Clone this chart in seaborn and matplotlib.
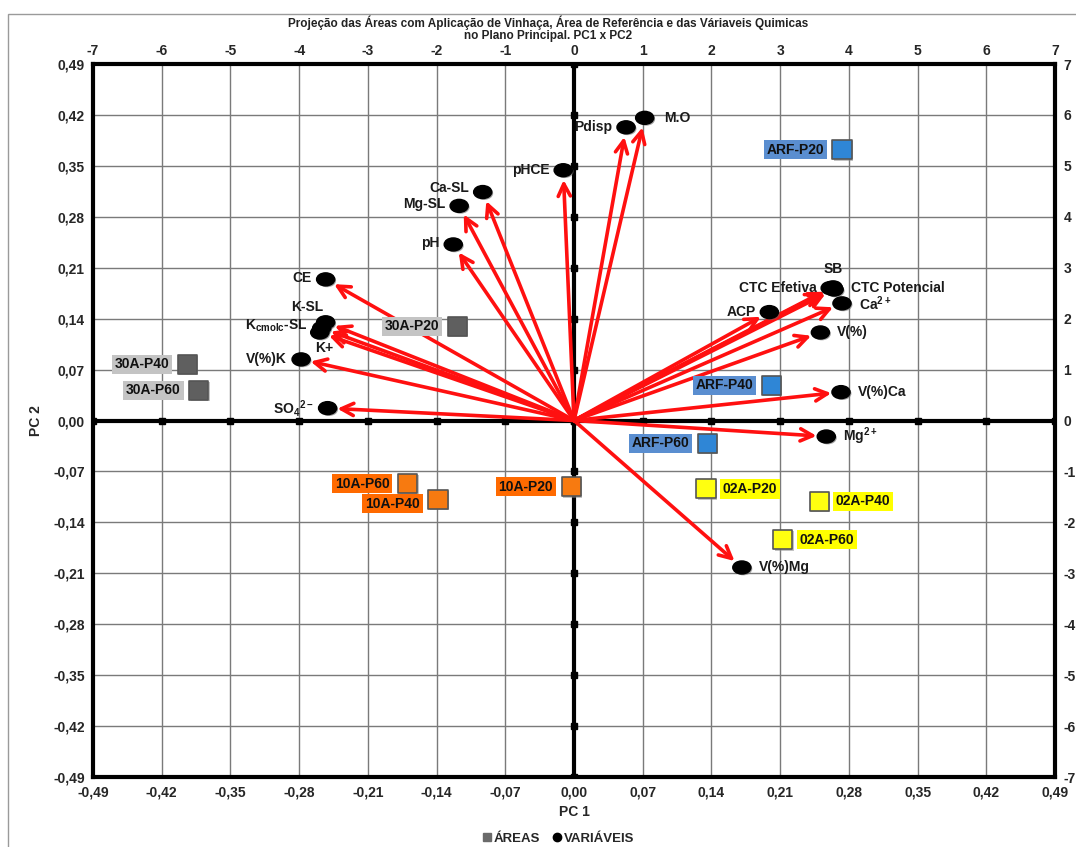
import numpy as np
import pandas as pd
import seaborn as sns
import matplotlib.pyplot as plt
import matplotlib.transforms as mtransforms
from matplotlib.path import Path
from matplotlib.ticker import FuncFormatter
from matplotlib.patches import Rectangle
import matplotlib.patheffects as pe

# Loadings of the chemical variables (PC1, PC2)
var_names = ['M.O', 'Pdisp', 'pHCE', 'Ca-SL', 'Mg-SL', 'pH', 'CE', 'K-SL',
             'K$_{\\mathbf{cmolc}}$-SL', 'K+', 'V(%)K', 'SO$_{\\mathbf{4}}$$^{\\mathbf{2-}}$',
             'SB', 'CTC Efetiva', 'CTC Potencial', 'Ca$^{\\mathbf{2+}}$', 'ACP', 'V(%)',
             'V(%)Ca', 'Mg$^{\\mathbf{2+}}$', 'V(%)Mg']
var_pc1 = [0.072, 0.053, -0.011, -0.093, -0.117, -0.123, -0.253, -0.253,
           -0.257, -0.259, -0.278, -0.251, 0.264, 0.261, 0.265, 0.273, 0.199,
           0.251, 0.272, 0.257, 0.171]
var_pc2 = [0.416, 0.403, 0.344, 0.314, 0.295, 0.242, 0.194, 0.135,
           0.127, 0.121, 0.084, 0.017, 0.183, 0.182, 0.180, 0.161, 0.149,
           0.121, 0.039, -0.022, -0.202]
# label placement: (dx, dy) in points, horizontal alignment
var_label_pos = [((14, 0), 'left'), ((-10, 0), 'right'), ((-10, 0), 'right'),
                 ((-10, 3), 'right'), ((-10, 1), 'right'), ((-10, 1), 'right'),
                 ((-10, 1), 'right'), ((-2, 11), 'right'), ((-10, 2), 'right'),
                 ((10, -11), 'right'), ((-10, 0), 'right'), ((-10, 0), 'right'),
                 ((0, 13), 'center'), ((-10, 0), 'right'), ((12, 1), 'left'),
                 ((12, 0), 'left'), ((-10, 0), 'right'), ((12, 0), 'left'),
                 ((12, 0), 'left'), ((12, 0), 'left'), ((12, 0), 'left')]

# Scores of the areas (PC1, PC2)
area_names = ['ARF-P20', 'ARF-P40', 'ARF-P60', '30A-P20', '30A-P40', '30A-P60',
              '10A-P20', '10A-P40', '10A-P60', '02A-P20', '02A-P40', '02A-P60']
area_group = ['ARF'] * 3 + ['30A'] * 3 + ['10A'] * 3 + ['02A'] * 3
area_pc1 = [3.90, 2.87, 1.94, -1.70, -5.63, -5.46, -0.04, -1.98, -2.42, 1.92, 3.57, 3.04]
area_pc2 = [5.32, 0.69, -0.45, 1.85, 1.10, 0.59, -1.30, -1.55, -1.24, -1.34, -1.59, -2.34]

group_marker = {'ARF': '#2f86d6', '30A': '#5f5f5f', '10A': '#f77a10', '02A': '#ffff10'}
group_label_bg = {'ARF': '#5a8ed0', '30A': '#c4c4c4', '10A': '#ff6a00', '02A': '#ffff00'}

load_ticks = np.round(np.arange(-0.49, 0.4901, 0.07), 2)
score_ticks = np.arange(-7, 8, 1)

df_var = pd.DataFrame({'name': var_names, 'pc1': var_pc1, 'pc2': var_pc2})
df_area = pd.DataFrame({'name': area_names, 'grupo': area_group,
                        'pc1': area_pc1, 'pc2': area_pc2})

sns.set_theme(style='white')
plt.rcParams['font.family'] = ['Liberation Sans', 'DejaVu Sans']
plt.rcParams['axes.unicode_minus'] = False
plt.rcParams['mathtext.fontset'] = 'custom'
plt.rcParams['mathtext.rm'] = 'Liberation Sans:bold'
plt.rcParams['mathtext.bf'] = 'Liberation Sans:bold'
narrow = ['Liberation Sans Narrow', 'Liberation Sans', 'DejaVu Sans']

fig = plt.figure(figsize=(10.76, 8.47), dpi=100)
fig.patches.append(Rectangle((0.007, -0.1), 1.2, 1.083, transform=fig.transFigure,
                             fill=False, edgecolor='#9a9a9a', lw=1.0))

pos = [93 / 1076, 1 - 777 / 847, 962 / 1076, 713 / 847]
ax = fig.add_axes(pos)

# grid
for t in load_ticks:
    ax.axvline(t, color='#7a7a7a', lw=1.0, zorder=0)
    ax.axhline(t, color='#7a7a7a', lw=1.0, zorder=0)
ax.axhline(0, color='black', lw=3, zorder=1)
ax.axvline(0, color='black', lw=3, zorder=1)
ax.plot(load_ticks, np.zeros_like(load_ticks), 's', color='black', ms=4, zorder=1)
ax.plot(np.zeros_like(load_ticks), load_ticks, 's', color='black', ms=4, zorder=1)

# arrows
for x, y in zip(var_pc1, var_pc2):
    ax.annotate('', xy=(x, y), xytext=(0, 0),
                arrowprops=dict(arrowstyle='->', color='#ff1010', lw=2.6,
                                shrinkA=0, shrinkB=7, mutation_scale=22),
                zorder=3)

# ellipse marker for variables
ell = Path.unit_circle().transformed(mtransforms.Affine2D().scale(1.4, 1.0))
sns.scatterplot(data=df_var, x='pc1', y='pc2', marker=ell, s=170, color='black',
                edgecolor='black', ax=ax, zorder=4, legend=False,
                path_effects=[pe.withSimplePatchShadow(offset=(1, -1), shadow_rgbFace='#666666', alpha=0.6)])

for i, row in df_var.iterrows():
    (dx, dy), ha = var_label_pos[i]
    ax.annotate(row['name'], (row['pc1'], row['pc2']), xytext=(dx, dy),
                textcoords='offset points', ha=ha, va='center', fontsize=10,
                fontweight='bold', color='#1a1a1a', zorder=5)

ax.set_xlim(-0.49, 0.49)
ax.set_ylim(-0.49, 0.49)
ax.set_xticks(load_ticks)
ax.set_yticks(load_ticks)
fmt = FuncFormatter(lambda v, p: f'{v:.2f}'.replace('.', ',').replace('-0,00', '0,00'))
ax.xaxis.set_major_formatter(fmt)
ax.yaxis.set_major_formatter(fmt)
ax.tick_params(axis='both', length=0, pad=6, labelsize=10)
for lab in ax.get_xticklabels() + ax.get_yticklabels():
    lab.set_fontweight('bold')
for s in ax.spines.values():
    s.set_color('black')
    s.set_linewidth(3)
ax.set_xlabel('PC 1', fontsize=10, fontweight='bold', labelpad=4)
ax.set_ylabel('PC 2', fontsize=10, fontweight='bold', labelpad=7)

# second coordinate system for area scores (top / right)
ax2 = fig.add_axes(pos, facecolor='none')
sns.scatterplot(data=df_area, x='pc1', y='pc2', hue='grupo', palette=group_marker,
                marker='s', s=190, edgecolor='#555555', linewidth=1.2, ax=ax2,
                legend=False, zorder=4,
                path_effects=[pe.withSimplePatchShadow(offset=(1, -1), shadow_rgbFace='#888888', alpha=0.5)])
for _, row in df_area.iterrows():
    right_side = row['grupo'] == '02A'
    dy = -3 if row['name'] == '10A-P40' else 0
    ax2.annotate(row['name'], (row['pc1'], row['pc2']),
                 xytext=(12 if right_side else -13, dy), textcoords='offset points',
                 ha='left' if right_side else 'right', va='center',
                 fontsize=10, fontweight='bold', color='#111111', zorder=5,
                 bbox=dict(boxstyle='square,pad=0.2', fc=group_label_bg[row['grupo']], ec='none'))
ax2.set_xlim(-7, 7)
ax2.set_ylim(-7, 7)
ax2.set_xticks(score_ticks)
ax2.set_yticks(score_ticks)
ax2.xaxis.tick_top()
ax2.yaxis.tick_right()
ax2.tick_params(axis='x', length=0, pad=4, labelsize=10)
ax2.tick_params(axis='y', length=0, pad=6, labelsize=10)
for lab in ax2.get_xticklabels() + ax2.get_yticklabels():
    lab.set_fontweight('bold')
ax2.set_xlabel('')
ax2.set_ylabel('')
for s in ax2.spines.values():
    s.set_visible(False)

fig.text(0.509, 0.9655, 'Projeção das Áreas com Aplicação de Vinhaça, Área de Referência e das Váriaveis Quimicas\n'
         'no Plano Principal. PC1 x PC2', ha='center', va='center', fontsize=8.5,
         fontweight='bold', family=narrow, linespacing=1.0, color='#222222')

handles = [plt.Line2D([], [], marker='s', ls='', color='#6a6a6a', ms=6),
           plt.Line2D([], [], marker='o', ls='', color='black', ms=6)]
fig.legend(handles, ['ÁREAS', 'VARIÁVEIS'], loc='center', bbox_to_anchor=(0.518, 0.010),
           ncol=2, frameon=False, handletextpad=0.0, columnspacing=0.8, handlelength=1.0,
           prop=dict(family=narrow, weight='bold', size=9.5))

fig.savefig('out.png', dpi=100)
